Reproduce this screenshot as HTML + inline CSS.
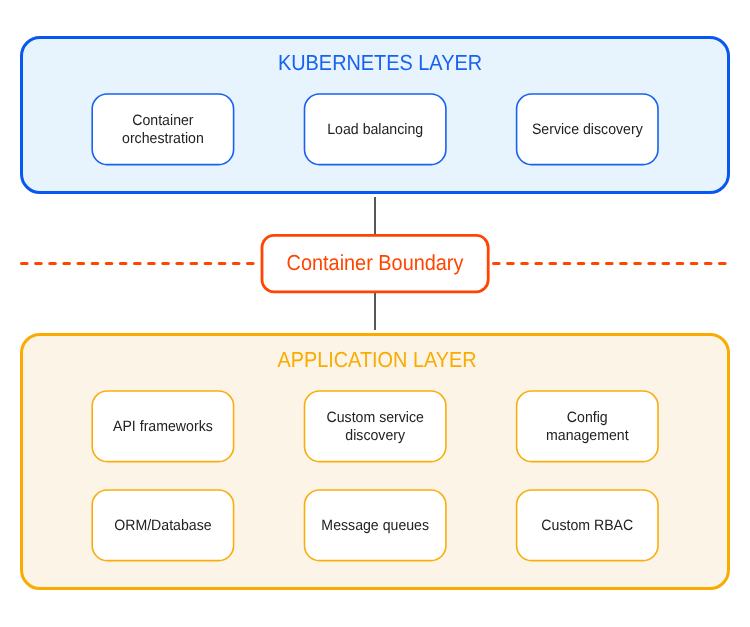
<!DOCTYPE html>
<html><head><meta charset="utf-8">
<style>
html,body{margin:0;padding:0;background:#fff;overflow:hidden;}
svg{display:block;will-change:transform;}
text{font-family:"Liberation Sans",sans-serif;text-rendering:geometricPrecision;}
.t{font-size:14px;fill:#222;text-anchor:middle;}
.h{font-size:20px;text-anchor:middle;}
.kb{fill:#fff;stroke:#1862f0;stroke-width:1.6;}
.ab{fill:#fff;stroke:#f9ae10;stroke-width:1.6;}
</style></head><body>
<svg width="750" height="627" viewBox="0 0 750 627">
<rect x="21.5" y="37.5" width="707" height="155" rx="18.5" fill="#e7f3fd" stroke="#0857f2" stroke-width="3"/>
<text class="h" transform="matrix(0.994 0 0 1.09 380 70)" fill="#1862f0">KUBERNETES LAYER</text>
<rect class="kb" x="92.2" y="94" width="141.4" height="70.6" rx="15"/>
<rect class="kb" x="304.5" y="94" width="141.4" height="70.6" rx="15"/>
<rect class="kb" x="516.6" y="94" width="141.4" height="70.6" rx="15"/>
<text class="t" transform="matrix(1.01 0 0 1.075 162.9 125)">Container</text>
<text class="t" transform="matrix(1.01 0 0 1.075 162.9 142.5)">orchestration</text>
<text class="t" transform="matrix(1.01 0 0 1.075 375.2 134)">Load balancing</text>
<text class="t" transform="matrix(1.01 0 0 1.075 587.3000000000001 134)">Service discovery</text>
<line x1="375" y1="197" x2="375" y2="330" stroke="#575757" stroke-width="2"/>
<line x1="21.5" y1="263.5" x2="255" y2="263.5" stroke="#ff4500" stroke-width="3" stroke-linecap="round" stroke-dasharray="5.6 8.525"/>
<line x1="493.5" y1="263.5" x2="730" y2="263.5" stroke="#ff4500" stroke-width="3" stroke-linecap="round" stroke-dasharray="5.6 8.525"/>
<rect x="262" y="235.4" width="226.2" height="56.4" rx="12" fill="#fff" stroke="#ff4500" stroke-width="2.8"/>
<text class="h" transform="matrix(0.994 0 0 1.09 375 270)" fill="#ff4500">Container Boundary</text>
<rect x="21.5" y="334.5" width="707" height="254" rx="18.5" fill="#fcf4e7" stroke="#faab00" stroke-width="3"/>
<text class="h" transform="matrix(0.994 0 0 1.09 377 366.5)" fill="#faab00">APPLICATION LAYER</text>
<rect class="ab" x="92.2" y="391" width="141.4" height="70.6" rx="15"/>
<rect class="ab" x="304.5" y="391" width="141.4" height="70.6" rx="15"/>
<rect class="ab" x="516.6" y="391" width="141.4" height="70.6" rx="15"/>
<rect class="ab" x="92.2" y="490" width="141.4" height="70.6" rx="15"/>
<rect class="ab" x="304.5" y="490" width="141.4" height="70.6" rx="15"/>
<rect class="ab" x="516.6" y="490" width="141.4" height="70.6" rx="15"/>
<text class="t" transform="matrix(1.01 0 0 1.075 162.9 431)">API frameworks</text>
<text class="t" transform="matrix(1.01 0 0 1.075 375.2 422)">Custom service</text>
<text class="t" transform="matrix(1.01 0 0 1.075 375.2 439.5)">discovery</text>
<text class="t" transform="matrix(1.01 0 0 1.075 587.3000000000001 422)">Config</text>
<text class="t" transform="matrix(1.01 0 0 1.075 587.3000000000001 439.5)">management</text>
<text class="t" transform="matrix(1.01 0 0 1.075 162.9 530)">ORM/Database</text>
<text class="t" transform="matrix(1.01 0 0 1.075 375.2 530)">Message queues</text>
<text class="t" transform="matrix(1.01 0 0 1.075 587.3000000000001 530)">Custom RBAC</text>
</svg>
</body></html>
